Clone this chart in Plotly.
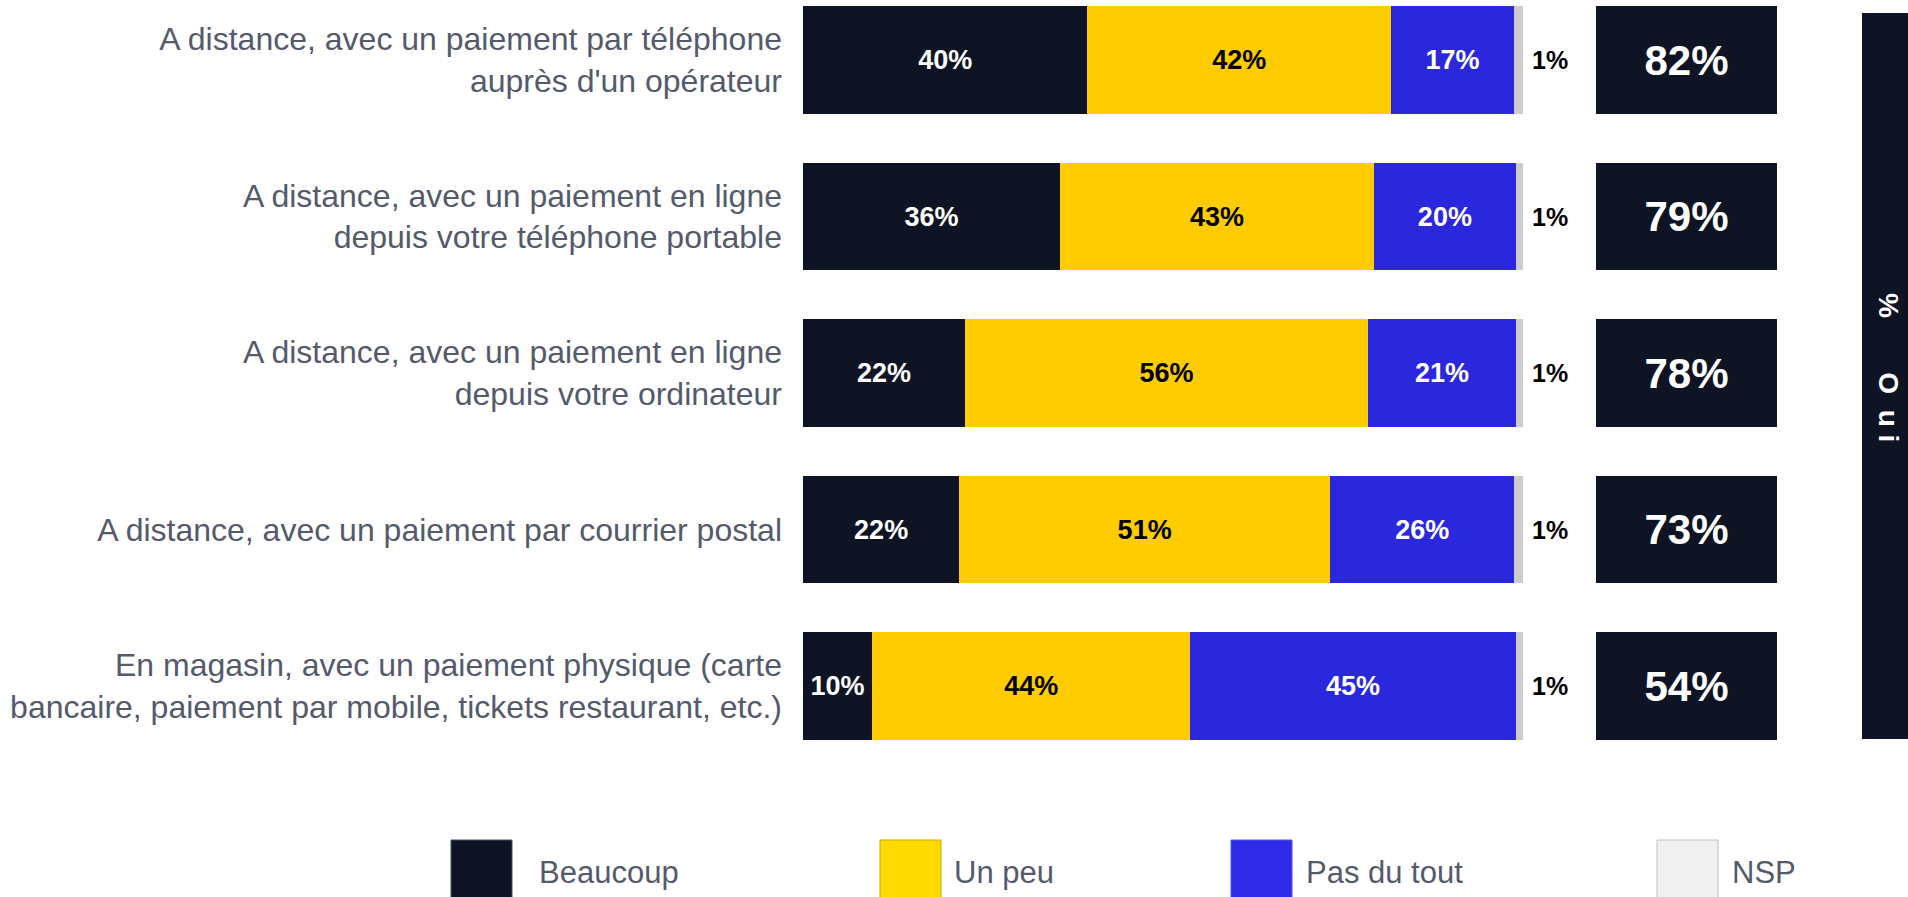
import plotly.graph_objects as go

# ---------------- data ----------------
categories = [
    "A distance, avec un paiement par téléphone<br>auprès d'un opérateur",
    "A distance, avec un paiement en ligne<br>depuis votre téléphone portable",
    "A distance, avec un paiement en ligne<br>depuis votre ordinateur",
    "A distance, avec un paiement par courrier postal",
    "En magasin, avec un paiement physique (carte<br>bancaire, paiement par mobile, tickets restaurant, etc.)",
]
series_names = ["Beaucoup", "Un peu", "Pas du tout", "NSP"]
beaucoup = [39.5, 35.7, 22.5, 21.7, 9.6]
un_peu = [42.2, 43.6, 56.0, 51.5, 44.2]
pas_du_tout = [17.0, 19.7, 20.5, 25.6, 45.2]
nsp = [1.3, 1.0, 1.0, 1.2, 1.0]
beaucoup_labels = ["40%", "36%", "22%", "22%", "10%"]
un_peu_labels = ["42%", "43%", "56%", "51%", "44%"]
pas_du_tout_labels = ["17%", "20%", "21%", "26%", "45%"]
nsp_labels = ["1%", "1%", "1%", "1%", "1%"]
oui_labels = ["82%", "79%", "78%", "73%", "54%"]
oui_title = "%\u00a0\u00a0\u00a0\u00a0\u00a0\u00a0\u00a0O\u00a0\u00a0u\u00a0i"

# ---------------- style ----------------
W, H = 1908, 897
FONT = "Liberation Sans, Arial, sans-serif"
DARK = "#0f1424"
YELLOW = "#fecc00"
BLUE = "#2b27dc"
GREY = "#cccccc"
LABEL_GREY = "#555a6b"

def px_x(p):
    return p / W

def px_y(p):
    return 1 - p / H

fig = go.Figure()

series = [
    (series_names[0], beaucoup, beaucoup_labels, DARK, "white"),
    (series_names[1], un_peu, un_peu_labels, YELLOW, "black"),
    (series_names[2], pas_du_tout, pas_du_tout_labels, BLUE, "white"),
    (series_names[3], nsp, ["", "", "", "", ""], GREY, "black"),
]
for name, vals, labels, color, tcolor in series:
    fig.add_trace(go.Bar(
        name=name, y=categories, x=vals, orientation="h",
        marker=dict(color=color, line=dict(width=0)),
        text=labels, textposition="inside", insidetextanchor="middle",
        textangle=0, constraintext="none",
        textfont=dict(family=FONT, size=27, color=tcolor, weight="bold"),
        hoverinfo="skip",
    ))

# "Oui" total boxes on a second x axis
fig.add_trace(go.Bar(
    name="Oui", y=categories, x=[1] * len(categories), orientation="h",
    xaxis="x2", marker=dict(color=DARK, line=dict(width=0)),
    text=oui_labels, textposition="inside", insidetextanchor="middle",
    textangle=0, constraintext="none",
    textfont=dict(family=FONT, size=42, color="white", weight="bold"),
    hoverinfo="skip",
))

annotations = []
# NSP labels right of the bars
for cat, b, u, p, n, lab in zip(categories, beaucoup, un_peu, pas_du_tout, nsp, nsp_labels):
    annotations.append(dict(
        x=min(round(b + u + p + n, 6), 100), y=cat, xref="x", yref="y", text=lab,
        showarrow=False, xanchor="left", xshift=7,
        font=dict(family=FONT, size=25, color="black", weight="bold"),
    ))

shapes = []
# Right vertical "% Oui" banner
shapes.append(dict(type="rect", xref="paper", yref="paper",
                   x0=px_x(1862), x1=px_x(1915), y0=px_y(739), y1=px_y(13),
                   fillcolor=DARK, line=dict(width=0), layer="below"))
annotations.append(dict(
    x=px_x(1889), y=px_y(367), xref="paper", yref="paper", text=oui_title,
    showarrow=False, textangle=90, xanchor="center", yanchor="middle",
    font=dict(family=FONT, size=28, color="white", weight="bold"),
))

# Custom legend
legend_items = [
    (series_names[0], DARK, "#4a4f5e", 451, 537),
    (series_names[1], "#ffd900", "#c9ab00", 880, 952),
    (series_names[2], "#2e2ce8", "#5555e0", 1231, 1304),
    (series_names[3], "#f0f0f0", "#c0c0c0", 1657, 1730),
]
for name, fill, edge, x0, tx in legend_items:
    shapes.append(dict(type="rect", xref="paper", yref="paper",
                       x0=px_x(x0), x1=px_x(x0 + 61), y0=px_y(910), y1=px_y(840),
                       fillcolor=fill, line=dict(width=1, color=edge)))
    annotations.append(dict(
        x=px_x(tx), y=px_y(872), xref="paper", yref="paper", text=name,
        showarrow=False, xanchor="left", yanchor="middle",
        font=dict(family=FONT, size=31, color=LABEL_GREY),
    ))

fig.update_layout(
    width=W, height=H, autosize=False,
    margin=dict(l=0, r=0, t=0, b=0, pad=0),
    barmode="stack", bargap=0.31,
    showlegend=False,
    plot_bgcolor="white", paper_bgcolor="white",
    font=dict(family=FONT),
    xaxis=dict(domain=[px_x(803), px_x(1523)], range=[0, 100], visible=False,
               fixedrange=True),
    xaxis2=dict(domain=[px_x(1596), px_x(1777)], range=[0, 1], visible=False,
                anchor="y", fixedrange=True),
    yaxis=dict(type="category", categoryorder="array", categoryarray=categories,
               range=[(H - 60) / 156.5, -60 / 156.5],
               showgrid=False, zeroline=False, showline=False, ticks="",
               ticklabelstandoff=20, automargin=False, fixedrange=True,
               tickfont=dict(family=FONT, size=32, color=LABEL_GREY)),
    shapes=shapes,
    annotations=annotations,
)

fig.write_html("out.html", config={"displayModeBar": False},
               post_script="document.body.style.margin='0';document.body.style.overflow='hidden';")
